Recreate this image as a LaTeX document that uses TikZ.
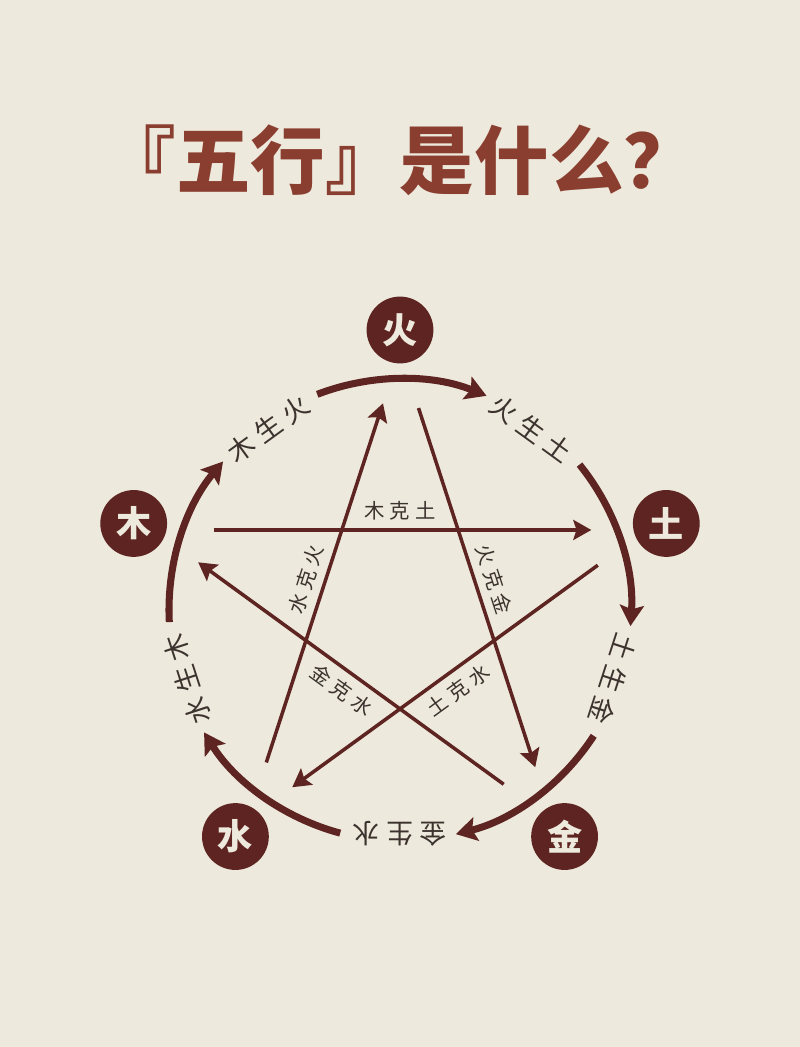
\documentclass[tikz,border=0pt]{standalone}
\usepackage{fontspec}
\newfontfamily\cjk{Noto Sans CJK SC}
\newfontfamily\cjkspaced[LetterSpace=25]{Noto Sans CJK SC}
\usepackage{tikz}
\usetikzlibrary{arrows.meta}
\usetikzlibrary{calc}

\definecolor{paper}{RGB}{237,233,220}
\definecolor{maroon}{RGB}{94,36,33}
\definecolor{titlered}{RGB}{138,62,48}
\definecolor{inkgray}{RGB}{60,50,46}

\tikzset{
  element/.style={circle, fill=maroon, text=paper, minimum size=1.67cm, inner sep=0pt, font=\cjk\bfseries\fontsize{25}{27}\selectfont},
  sheng/.style={line width=5pt, draw=maroon, -{Stealth[length=0.52cm, width=0.6cm, inset=0.1cm]}},
  ke/.style={line width=2.5pt, draw=maroon, -{Stealth[length=0.45cm, width=0.5cm, inset=0.08cm]}, shorten <=1.5cm, shorten >=1.375cm},
  shenglabel/.style={text=inkgray, inner sep=0pt, font=\cjkspaced\fontsize{19}{20}\selectfont},
  kelabel/.style={text=inkgray, inner sep=0pt, font=\cjkspaced\fontsize{14.5}{15}\selectfont}
}

\begin{document}
\begin{tikzpicture}
\useasboundingbox (-10,-10.925) rectangle (10,15.25);
\fill[paper] (-10,-10.925) rectangle (10,15.25);

\node at (0,11.25) [name=title, text=titlered, font=\cjk\bfseries\fontsize{53}{56}\selectfont]{『五行』是什么？};

\node at (90:7) [element, name=huo]{火};
\node at (18:7) [element, name=tu]{土};
\node at (-54:7) [element, name=jin]{金};
\node at (-126:7) [element, name=shui]{水};
\node at (162:7) [element, name=mu]{木};

\coordinate (vhuo) at (90:6.475);
\coordinate (vtu) at (18:6.475);
\coordinate (vjin) at (-54:6.475);
\coordinate (vshui) at (-126:6.475);
\coordinate (vmu) at (162:6.475);

\coordinate (ahuo) at (111:5.775);
\coordinate (atu) at (39:5.775);
\coordinate (ajin) at (-33:5.775);
\coordinate (ashui) at (-105:5.775);
\coordinate (amu) at (183:5.775);

\draw[sheng] (ahuo) arc[start angle=111, end angle=68, radius=5.775];
\draw[sheng] (atu) arc[start angle=39, end angle=-4, radius=5.775];
\draw[sheng] (ajin) arc[start angle=-33, end angle=-76, radius=5.775];
\draw[sheng] (ashui) arc[start angle=-105, end angle=-148, radius=5.775];
\draw[sheng] (amu) arc[start angle=183, end angle=140, radius=5.775];

\node at (126:5.6) [shenglabel, rotate=36, name=musheng]{木生火};
\node at (54:5.6) [shenglabel, rotate=-36, name=huosheng]{火生土};
\node at (-18:5.6) [shenglabel, rotate=-108, name=tusheng]{土生金};
\node at (-90:5.6) [shenglabel, rotate=180, name=jinsheng]{金生水};
\node at (-162:5.6) [shenglabel, rotate=108, name=shuisheng]{水生木};

\draw[ke] (vmu) -- (vtu);
\draw[ke] (vhuo) -- (vjin);
\draw[ke] (vtu) -- (vshui);
\draw[ke] (vjin) -- (vmu);
\draw[ke] (vshui) -- (vhuo);

\node at (90:2.475) [kelabel, name=muke]{木克土};
\node at (18:2.475) [kelabel, rotate=-72, name=huoke]{火克金};
\node at (-54:2.475) [kelabel, rotate=36, name=tuke]{土克水};
\node at (-126:2.475) [kelabel, rotate=-36, name=jinke]{金克水};
\node at (162:2.475) [kelabel, rotate=72, name=shuike]{水克火};
\end{tikzpicture}
\end{document}
